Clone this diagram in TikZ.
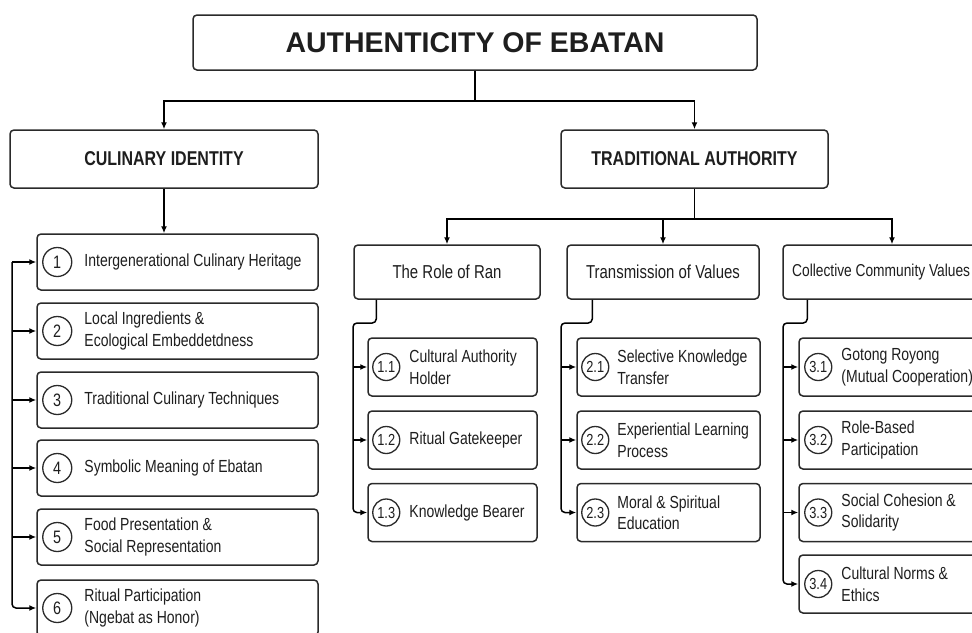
\documentclass[tikz,border=0pt]{standalone}
\usepackage{fontspec}
\setmainfont{Liberation Sans}[FakeStretch=0.8]
\newfontfamily\titlefont{Liberation Sans}
\usetikzlibrary{arrows.meta}
\definecolor{ink}{HTML}{1E1E1E}
\definecolor{edge}{HTML}{2A2A2A}
\begin{document}
\begin{tikzpicture}[x=1pt,y=-1pt,
  box/.style={draw=edge, line width=1.5pt, rounded corners=4pt, fill=white, inner sep=0pt, text=ink, align=center},
  head/.style={box, font=\bfseries\fontsize{20}{24}\selectfont, minimum height=58pt},
  sub/.style={box, font=\fontsize{18.7}{22}\selectfont, minimum height=54pt},
  item/.style={box, minimum height=56pt},
  sitem/.style={box, minimum height=58pt},
  num/.style={draw=edge, line width=1.3pt, circle, inner sep=0pt, minimum size=29pt, text=ink, font=\fontsize{18}{20}\selectfont},
  snum/.style={draw=edge, line width=1.3pt, circle, inner sep=0pt, minimum size=27pt, text=ink, font=\fontsize{16}{18}\selectfont},
  txt/.style={anchor=west, align=left, inner sep=0pt, text=ink, font=\fontsize{17.5}{21.5}\selectfont},
  conn/.style={draw=black, line width=1.5pt},
  arr/.style={conn, -{Latex[length=7pt,width=6pt]}}
]
\useasboundingbox (0,0) rectangle (972,632);

% title and headers
\node[box, minimum width=564pt, minimum height=55pt, font=\titlefont\bfseries\fontsize{28.5}{32}\selectfont] (title) at (475,42.5) {AUTHENTICITY OF EBATAN};
\node[head, minimum width=308pt] (cul) at (164,159) {CULINARY IDENTITY};
\node[head, minimum width=267pt] (trad) at (694.5,159) {TRADITIONAL AUTHORITY};

\draw[arr] (title.south) -- ++(0,30) -| (cul.north);
\draw[arr] (title.south) -- ++(0,30) -| (trad.north);

% sub headers
\node[sub, minimum width=186pt] (ran) at (447,272) {The Role of Ran};
\node[sub, minimum width=192pt] (trans) at (663,272) {Transmission of Values};
\node[sub, minimum width=218pt] (coll) at (892,272) {};
\node[txt, font=\fontsize{17.2}{20}\selectfont] (collt) at (792,272) {Collective Community Values};

\draw[arr] (trad.south) -- ++(0,30) -| (ran.north);
\draw[arr] (trad.south) -- ++(0,30) -| (trans.north);
\draw[arr] (trad.south) -- ++(0,30) -| (coll.north);

% left items
\node[item, minimum width=281pt] (c1) at (177.5,262) {};
\node[num] (n1) at ([xshift=21pt]c1.west) {1};
\node[txt] (t1) at ([xshift=48pt]c1.west) {Intergenerational Culinary Heritage};
\node[item, minimum width=281pt] (c2) at (177.5,331) {};
\node[num] (n2) at ([xshift=21pt]c2.west) {2};
\node[txt] (t2) at ([xshift=48pt]c2.west) {Local Ingredients \&\\Ecological Embeddetdness};
\node[item, minimum width=281pt] (c3) at (177.5,400) {};
\node[num] (n3) at ([xshift=21pt]c3.west) {3};
\node[txt] (t3) at ([xshift=48pt]c3.west) {Traditional Culinary Techniques};
\node[item, minimum width=281pt] (c4) at (177.5,468) {};
\node[num] (n4) at ([xshift=21pt]c4.west) {4};
\node[txt] (t4) at ([xshift=48pt]c4.west) {Symbolic Meaning of Ebatan};
\node[item, minimum width=281pt] (c5) at (177.5,537) {};
\node[num] (n5) at ([xshift=21pt]c5.west) {5};
\node[txt] (t5) at ([xshift=48pt]c5.west) {Food Presentation \&\\Social Representation};
\node[item, minimum width=281pt] (c6) at (177.5,608) {};
\node[num] (n6) at ([xshift=21pt]c6.west) {6};
\node[txt] (t6) at ([xshift=48pt]c6.west) {Ritual Participation\\(Ngebat as Honor)};

\draw[arr] (cul.south) -- (cul.south |- c1.north);
\coordinate (lbus) at (12,262);
\draw[arr] (lbus) -- (c1.west);
\draw[arr, rounded corners=4pt] (lbus) -- (lbus |- c6.west) -- (c6.west);
\foreach \b in {c2,c3,c4,c5}{\draw[arr] (lbus |- \b.west) -- (\b.west);}

% column 1
\node[sitem, minimum width=169pt] (r1) at (452.5,367) {};
\node[snum] (rn1) at ([xshift=19pt]r1.west) {1.1};
\node[txt] (rt1) at ([xshift=42pt]r1.west) {Cultural Authority\\Holder};
\node[sitem, minimum width=169pt] (r2) at (452.5,440) {};
\node[snum] (rn2) at ([xshift=19pt]r2.west) {1.2};
\node[txt] (rt2) at ([xshift=42pt]r2.west) {Ritual Gatekeeper};
\node[sitem, minimum width=169pt] (r3) at (452.5,512.5) {};
\node[snum] (rn3) at ([xshift=19pt]r3.west) {1.3};
\node[txt] (rt3) at ([xshift=42pt]r3.west) {Knowledge Bearer};

\coordinate (rb) at (353,323);
\draw[arr, rounded corners=4pt] ([xshift=23pt]ran.south west) -- ([xshift=23pt]ran.south west |- rb) -- (rb) -- (rb |- r3.west) -- (r3.west);
\foreach \b in {r1,r2}{\draw[arr] (rb |- \b.west) -- (\b.west);}

% column 2
\node[sitem, minimum width=183pt] (s1) at (668.5,367) {};
\node[snum] (sn1) at ([xshift=19pt]s1.west) {2.1};
\node[txt] (st1) at ([xshift=41pt]s1.west) {Selective Knowledge\\Transfer};
\node[sitem, minimum width=183pt] (s2) at (668.5,440) {};
\node[snum] (sn2) at ([xshift=19pt]s2.west) {2.2};
\node[txt] (st2) at ([xshift=41pt]s2.west) {Experiential Learning\\Process};
\node[sitem, minimum width=183pt] (s3) at (668.5,512.5) {};
\node[snum] (sn3) at ([xshift=19pt]s3.west) {2.3};
\node[txt] (st3) at ([xshift=41pt]s3.west) {Moral \& Spiritual\\Education};

\coordinate (sb) at (561,323);
\draw[arr, rounded corners=4pt] ([xshift=26pt]trans.south west) -- ([xshift=26pt]trans.south west |- sb) -- (sb) -- (sb |- s3.west) -- (s3.west);
\foreach \b in {s1,s2}{\draw[arr] (sb |- \b.west) -- (\b.west);}

% column 3
\node[sitem, minimum width=190pt] (v1) at (894,367) {};
\node[snum] (vn1) at ([xshift=20pt]v1.west) {3.1};
\node[txt] (vt1) at ([xshift=43pt]v1.west) {Gotong Royong\\(Mutual Cooperation)};
\node[sitem, minimum width=190pt] (v2) at (894,440) {};
\node[snum] (vn2) at ([xshift=20pt]v2.west) {3.2};
\node[txt] (vt2) at ([xshift=43pt]v2.west) {Role-Based\\Participation};
\node[sitem, minimum width=190pt] (v3) at (894,512.5) {};
\node[snum] (vn3) at ([xshift=20pt]v3.west) {3.3};
\node[txt] (vt3) at ([xshift=43pt]v3.west) {Social Cohesion \&\\Solidarity};
\node[sitem, minimum width=190pt] (v4) at (894,584) {};
\node[snum] (vn4) at ([xshift=20pt]v4.west) {3.4};
\node[txt] (vt4) at ([xshift=43pt]v4.west) {Cultural Norms \&\\Ethics};

\coordinate (vb) at (783,323);
\draw[arr, rounded corners=4pt] ([xshift=25pt]coll.south west) -- ([xshift=25pt]coll.south west |- vb) -- (vb) -- (vb |- v4.west) -- (v4.west);
\foreach \b in {v1,v2,v3}{\draw[arr] (vb |- \b.west) -- (\b.west);}
\end{tikzpicture}
\end{document}
